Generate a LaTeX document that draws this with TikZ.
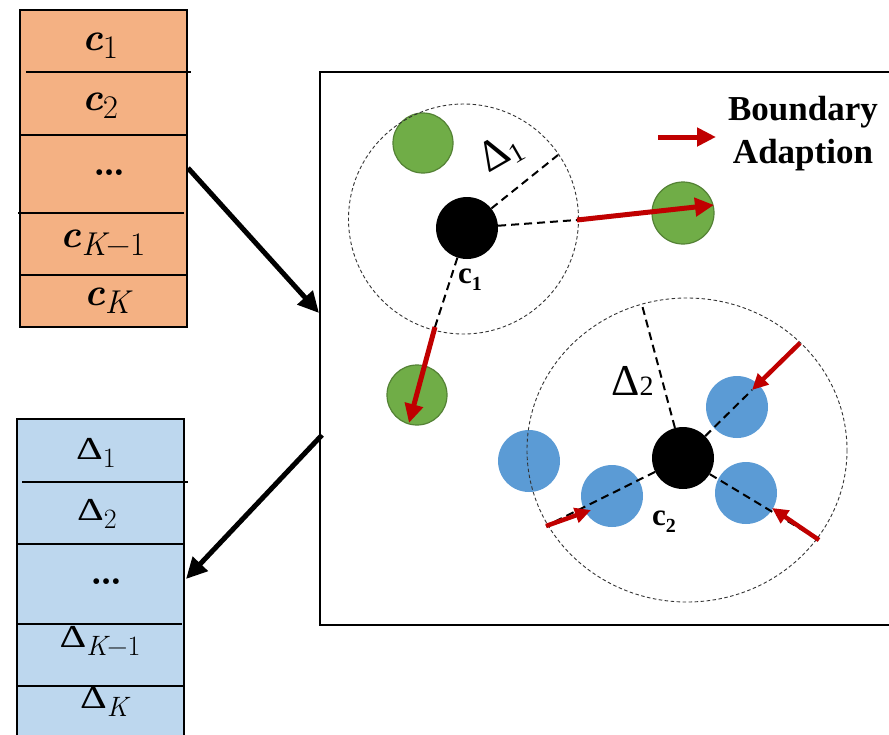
\documentclass[tikz,border=0pt]{standalone}
\usepackage{graphicx}
\usepackage{fontspec}
\newfontfamily\tnr{Liberation Serif}
\usetikzlibrary{arrows.meta}

\definecolor{cfill}{HTML}{F4B183}
\definecolor{dfill}{HTML}{BDD7EE}
\definecolor{ptgreen}{HTML}{70AD47}
\definecolor{ptgreendark}{HTML}{548235}
\definecolor{ptblue}{HTML}{5B9BD5}
\definecolor{adapt}{HTML}{C00000}

% indexed symbols for the two tables
\newcommand\cidx[1]{{\fontsize{39}{40}\selectfont\bfseries\itshape c}\raisebox{-8pt}{\fontsize{33}{34}\selectfont #1}}
\newcommand\didx[1]{{\tnr\fontsize{32}{33}\selectfont\scalebox{1.3}[1]{Δ}}\raisebox{-8pt}{\fontsize{28}{29}\selectfont #1}}

\tikzset{
  stackbox/.style={draw=black, line width=1.5pt},
  divider/.style={line width=1.5pt},
  clab/.style={anchor=base, inner sep=0pt},
  dotslab/.style={font=\fontsize{40}{42}\selectfont\bfseries, anchor=base, inner sep=0pt},
  flow/.style={line width=5pt, -{Triangle[length=21pt,width=20pt]}},
  centroid/.style={circle, fill=black, minimum size=62pt, inner sep=0pt},
  greenpt/.style={circle, fill=ptgreen, draw=ptgreendark, line width=1.2pt, minimum size=60pt, inner sep=0pt},
  bluept/.style={circle, fill=ptblue, minimum size=62pt, inner sep=0pt},
  ring/.style={draw=black!80, line width=0.9pt, dash pattern=on 3.5pt off 2.5pt},
  radial/.style={line width=2pt, dash pattern=on 8pt off 5pt},
  adaptarrow/.style={draw=adapt, line width=5pt, -{Triangle[length=19pt,width=18pt]}},
  adaptsmall/.style={draw=adapt, line width=4.5pt, -{Triangle[length=16pt,width=15pt]}},
  tlab/.style={font=\tnr\fontsize{31}{33}\selectfont\bfseries, anchor=base west, inner sep=0pt},
  deltalab/.style={font=\tnr\fontsize{44}{46}\selectfont, inner sep=0pt},
  legend/.style={font=\tnr\fontsize{35}{36}\selectfont\bfseries, anchor=base, inner sep=0pt}
}

\begin{document}
\begin{tikzpicture}[x=1pt,y=-1pt]
\useasboundingbox (0,0) rectangle (889,734);
\fill[white] (0,0) rectangle (889,734);
\clip (0,0) rectangle (889,734);

% centroid table
\draw[stackbox, fill=cfill] (20,10) rectangle (187,327);
\draw[divider] (26,72) -- (191,72);
\draw[divider] (20,135) -- (187,135);
\draw[divider] (18,213) -- (184,213);
\draw[divider] (20,275) -- (187,275);
\node[clab] (cl1) at (100,50) {\cidx{1}};
\node[clab] (cl2) at (100,110) {\cidx{2}};
\node[dotslab] (cldots) at (110,175) {\ldots};
\node[clab] (clk1) at (103,247) {\cidx{\itshape K\upshape −1}};
\node[clab] (clk) at (107,305) {\cidx{\itshape K}};

% boundary table
\draw[stackbox, fill=dfill] (17,419) rectangle (184,760);
\draw[divider] (22,482) -- (188,482);
\draw[divider] (17,544) -- (184,544);
\draw[divider] (17,624) -- (182,624);
\draw[divider] (17,686) -- (184,686);
\node[clab] (dl1) at (96,459) {\didx{1}};
\node[clab] (dl2) at (97,520) {\didx{2}};
\node[dotslab] (dldots) at (107,584) {\ldots};
\node[clab] (dlk1) at (100,647) {\didx{\itshape K\upshape −1}};
\node[clab] (dlk) at (104,708) {\didx{\itshape K}};

% embedding panel
\draw[line width=1.5pt] (900,72) -- (320,72) -- (320,625) -- (900,625);

% flow between tables and panel
\coordinate (csout) at (188,168);
\coordinate (pin) at (319,313);
\coordinate (pout) at (322,435);
\coordinate (dsin) at (186,579);
\draw[flow] (csout) -- (pin);
\draw[flow] (pout) -- (dsin);

% cluster 1: points, boundary ring, centroid
\node[greenpt] (g1) at (423,143) {};
\node[greenpt, minimum size=62pt] (g2) at (683,213) {};
\node[greenpt] (g3) at (417,395) {};
\node[ring, circle, minimum size=230pt, inner sep=0pt] (ring1) at (463.5,219) {};
\node[centroid] (c1) at (467,228) {};
\coordinate (q0) at (558,155);
\coordinate (q1) at (577,220);
\coordinate (q2) at (435,327);
\coordinate (g2tip) at (714,205);
\coordinate (g3tip) at (409,423);
\draw[radial] (c1) -- (q0);
\draw[radial] (c1) -- (q1);
\draw[radial] (c1) -- (q2);
\draw[adaptarrow] (q1) -- (g2tip);
\draw[adaptarrow] (q2) -- (g3tip);
\node[deltalab, rotate=30] (d1) at (501,153) {Δ\raisebox{-0.12em}{\fontsize{28}{30}\selectfont 1}};
\node[tlab] (c1lab) at (458,283) {c\raisebox{-0.25em}{\fontsize{20}{22}\selectfont 1}};

% cluster 2: points, boundary ring, centroid
\node[bluept] (b1) at (529,461) {};
\node[bluept] (b2) at (612,496) {};
\node[bluept] (b3) at (737,407) {};
\node[bluept] (b4) at (746,493) {};
\draw[ring] (687,450) ellipse [x radius=160, y radius=152];
\node[centroid] (c2) at (683,458) {};
\coordinate (r0) at (642,305);
\coordinate (t3) at (752,390);
\coordinate (s3) at (800,343);
\coordinate (s4) at (819,540);
\coordinate (t4) at (772,508);
\coordinate (s2) at (546,526);
\coordinate (t2) at (591,510);
\draw[radial] (c2) -- (r0);
\draw[radial] (c2) -- (t3);
\draw[radial] (c2) -- (s4);
\draw[radial] (c2) -- (s2);
\draw[adaptsmall] (s3) -- (t3);
\draw[adaptsmall] (s4) -- (t4);
\draw[adaptsmall] (s2) -- (t2);
\node[deltalab, anchor=base west] (d2) at (611,395) {Δ\raisebox{-0.02em}{\fontsize{28}{30}\selectfont 2}};
\node[tlab] (c2lab) at (652,525) {c\raisebox{-0.25em}{\fontsize{20}{22}\selectfont 2}};

% legend
\coordinate (la) at (658,137);
\coordinate (lb) at (716,137);
\draw[adaptarrow] (la) -- (lb);
\node[legend] (leg1) at (803,120) {Boundary};
\node[legend] (leg2) at (803,163) {Adaption};
\end{tikzpicture}
\end{document}
